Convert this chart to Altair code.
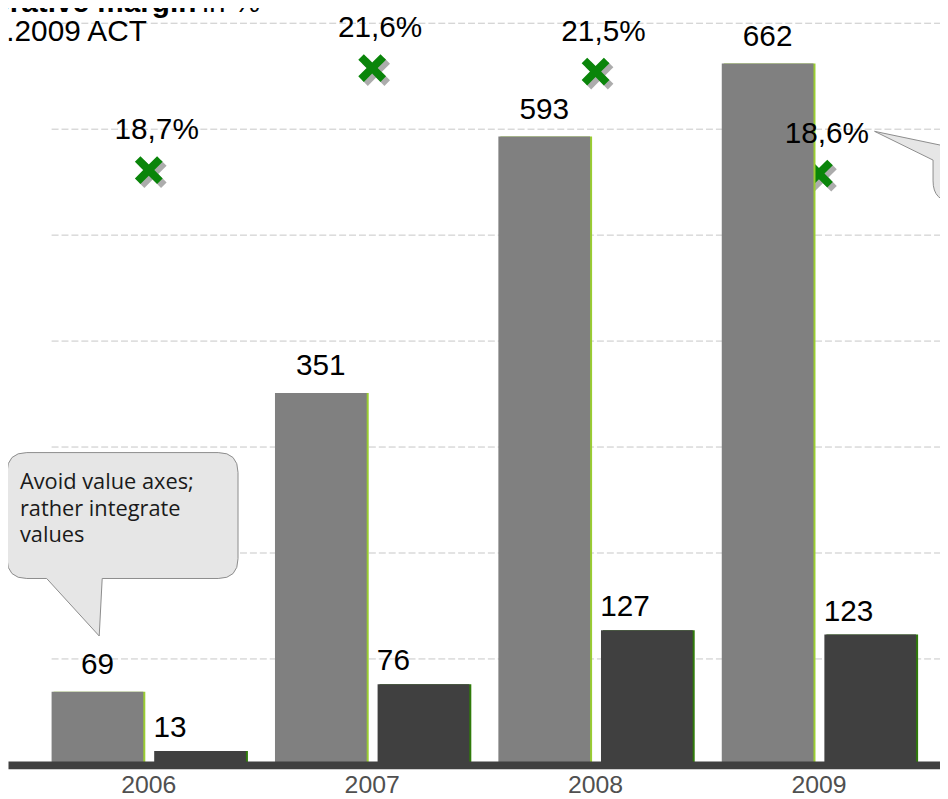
import altair as alt
import pandas as pd

# ---------------- data ----------------
years = ["2006", "2007", "2008", "2009"]
series_names = ["Revenue", "EBIT"]
revenue = [69, 351, 593, 662]
ebit = [13, 76, 127, 123]
margin = [18.7, 21.6, 21.5, 18.6]
margin_labels = ["18,7%", "21,6%", "21,5%", "18,6%"]
grid_values = [100, 200, 300, 400, 500, 600, 700]
callout_text = ["Avoid value axes;", "rather integrate", "values"]
title_bold = "Revenue in mEUR, Operative margin"
title_rest = " in %"
period_text = "01.01.2006 - 31.12.2009 ACT"

bars_df = pd.DataFrame({
    "year": years * 2,
    "series": [series_names[0]] * 4 + [series_names[1]] * 4,
    "value": revenue + ebit,
})
margin_df = pd.DataFrame({"year": years, "margin": margin, "label": margin_labels})
grid_df = pd.DataFrame({"g": grid_values})
one = pd.DataFrame({"a": [0]})

# ---------------- scales ----------------
xs = alt.Scale(domain=years, paddingInner=0.13, paddingOuter=0.151, align=0.646)
yv = alt.Scale(domain=[0, 711.2], nice=False, zero=True)
yp = alt.Scale(domain=[1.8, 23.21], nice=False, zero=False)

xaxis = alt.Axis(title=None, labelAngle=0, ticks=False, tickSize=0, grid=False,
                 domainColor="#404040", domainWidth=8,
                 labelFont="Liberation Sans", labelFontSize=25,
                 labelColor="#505050", labelPadding=8, zindex=1)


def X():
    return alt.X("year:N", scale=xs, axis=xaxis)


def xoff(shift=None):
    kw = dict(type="band", domain=series_names, paddingInner=0.106, paddingOuter=0)
    if shift is not None:
        kw["range"] = [shift, 196.02 + shift]
    return alt.XOffset("series:N", scale=alt.Scale(**kw))


# ---------------- layers ----------------
grid = alt.Chart(grid_df).mark_rule(color="#c6c6c6", strokeDash=[7, 3], strokeWidth=1).encode(
    y=alt.Y("g:Q", scale=yv, axis=None), x=alt.value(44), x2=alt.value(940))

xshape = "M-1,-0.6L-0.6,-1L0,-0.4L0.6,-1L1,-0.6L0.4,0L1,0.6L0.6,1L0,0.4L-0.6,1L-1,0.6L-0.4,0Z"

shadow = alt.Chart(margin_df).mark_point(
    shape=xshape, filled=True, color="#a3a3a3", opacity=0.9, size=784,
    strokeWidth=0, xOffset=4, yOffset=4).encode(
    x=X(), y=alt.Y("margin:Q", scale=yp, axis=None))

markers = alt.Chart(margin_df).mark_point(
    shape=xshape, filled=True, color="#0a850a", opacity=1, size=784, strokeWidth=0).encode(
    x=X(), y=alt.Y("margin:Q", scale=yp, axis=None))

strips = alt.Chart(bars_df).mark_bar().encode(
    x=X(), xOffset=xoff(2),
    y=alt.Y("value:Q", scale=yv, axis=None),
    color=alt.Color("series:N", scale=alt.Scale(domain=series_names, range=["#9acd32", "#2f7a0a"]), legend=None))

bars = alt.Chart(bars_df).mark_bar().encode(
    x=X(), xOffset=xoff(),
    y=alt.Y("value:Q", scale=yv, axis=None),
    color=alt.Color("series:N", scale=alt.Scale(domain=series_names, range=["#808080", "#404040"]), legend=None))

left_callout_path = ("M19,445H212Q232,445 232,465V552Q232,572 212,572H95L92,630L39,572H19"
                     "Q-1,572 -1,552V465Q-1,445 19,445Z")
right_callout_path = "M960,60H1100V192H954Q933,192 933,171V150L874,121L960,139Z"

callout_l = alt.Chart(one).mark_point(
    shape=left_callout_path, filled=True, fill="#e6e6e6", stroke="#8c8c8c", strokeWidth=1,
    opacity=1, size=4).encode(x=alt.value(0), y=alt.value(0))
callout_r = alt.Chart(one).mark_point(
    shape=right_callout_path, filled=True, fill="#e6e6e6", stroke="#8c8c8c", strokeWidth=1,
    opacity=1, size=4).encode(x=alt.value(0), y=alt.value(0))

rev_labels = alt.Chart(bars_df).transform_filter(
    alt.datum.series == series_names[0]).mark_text(
    font="Liberation Sans", fontSize=30, dy=-18, baseline="alphabetic", align="center", color="#000000").encode(
    x=X(), xOffset=xoff(), y=alt.Y("value:Q", scale=yv, axis=None), text="value:Q")

ebit_labels = alt.Chart(bars_df).transform_filter(
    alt.datum.series == series_names[1]).mark_text(
    font="Liberation Sans", fontSize=30, dy=-14, dx=-47, baseline="alphabetic", align="left", color="#000000").encode(
    x=X(), xOffset=xoff(), y=alt.Y("value:Q", scale=yv, axis=None), text="value:Q")

pct_labels = alt.Chart(margin_df).mark_text(
    font="Liberation Sans", fontSize=30, dy=-31, dx=8, baseline="alphabetic", align="center", color="#000000").encode(
    x=X(), y=alt.Y("margin:Q", scale=yp, axis=None), text="label:N")

callout_txt = alt.Chart(one).mark_text(
    text=callout_text, font="Open Sans", fontSize=22, align="left", baseline="alphabetic",
    lineHeight=26.5, color="#1a1a1a").encode(x=alt.value(12), y=alt.value(482))

title1 = alt.Chart(one).mark_text(
    text=title_bold, font="Liberation Sans", fontSize=30, fontWeight="bold", align="right",
    baseline="alphabetic", color="#000000").encode(x=alt.value(190), y=alt.value(1))
title1b = alt.Chart(one).mark_text(
    text=title_rest, font="Liberation Sans", fontSize=30, align="left",
    baseline="alphabetic", color="#000000").encode(x=alt.value(196), y=alt.value(1))
title2 = alt.Chart(one).mark_text(
    text=period_text, font="Liberation Sans", fontSize=30, align="right",
    baseline="alphabetic", color="#000000").encode(x=alt.value(140), y=alt.value(30))

chart = alt.layer(
    grid, shadow, markers, strips, bars, callout_l, callout_r,
    rev_labels, ebit_labels, pct_labels, callout_txt, title1, title1b, title2
).resolve_scale(
    y="independent", xOffset="independent", color="independent"
).properties(
    width=940, height=760,
    autosize=alt.AutoSizeParams(type="none"),
    padding={"left": 0, "top": 0, "right": 0, "bottom": 31},
    background="white",
).configure_view(stroke=None)

chart.save("out.html", embed_options={"renderer": "svg", "actions": False})
